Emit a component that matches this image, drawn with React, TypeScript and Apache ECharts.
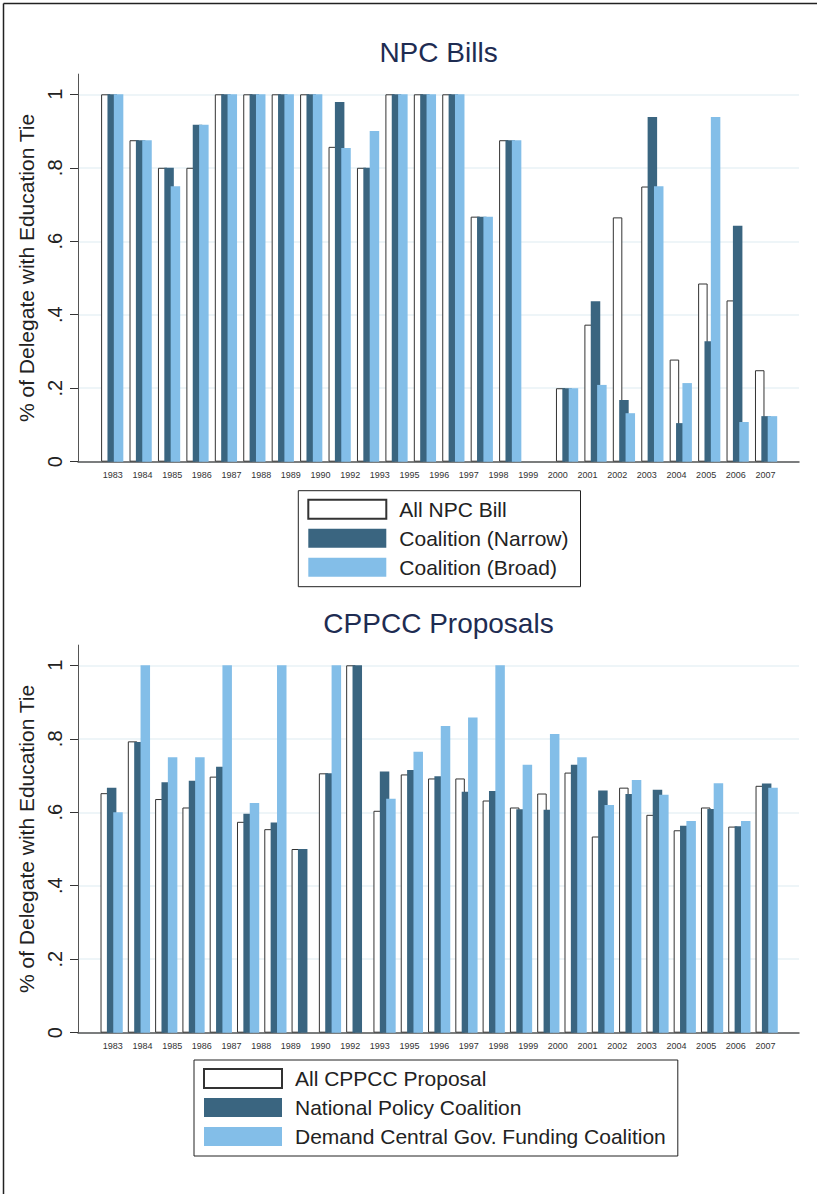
import React, { useEffect, useRef } from "react";
import * as echarts from "echarts";

const FONT = '"Liberation Sans", Arial, Helvetica, sans-serif';

// Tick labels shown under each chart (23 labels)
const tickLabels = ["1983", "1984", "1985", "1986", "1987", "1988", "1989", "1990", "1992", "1993", "1995", "1996", "1997", "1998", "1999", "2000", "2001", "2002", "2003", "2004", "2005", "2006", "2007"];

// Bar slots of the NPC chart (24 groups drawn)
const npcSlots = ["1", "2", "3", "4", "5", "6", "7", "8", "9", "10", "11", "12", "13", "14", "15", "16", "17", "18", "19", "20", "21", "22", "23", "24"];
const npcAll = [1, 0.875, 0.8, 0.8, 1, 1, 1, 1, 0.857, 0.8, 1, 1, 1, 0.667, 0.875, null, 0.2, 0.373, 0.665, 0.749, 0.278, 0.485, 0.439, 0.249];
const npcNarrow = [1, 0.875, 0.8, 0.917, 1, 1, 1, 1, 0.979, 0.8, 1, 1, 1, 0.667, 0.875, null, 0.2, 0.437, 0.168, 0.938, 0.105, 0.328, 0.642, 0.124];
const npcBroad = [1, 0.875, 0.75, 0.917, 1, 1, 1, 1, 0.854, 0.9, 1, 1, 1, 0.667, 0.875, null, 0.2, 0.209, 0.132, 0.75, 0.214, 0.938, 0.108, 0.124];

// Bar slots of the CPPCC chart (25 groups drawn)
const cppccSlots = ["1", "2", "3", "4", "5", "6", "7", "8", "9", "10", "11", "12", "13", "14", "15", "16", "17", "18", "19", "20", "21", "22", "23", "24", "25"];
const cppccAll = [0.652, 0.793, 0.636, 0.613, 0.697, 0.574, 0.554, 0.5, 0.706, 1, 0.604, 0.703, 0.692, 0.692, 0.632, 0.613, 0.651, 0.708, 0.534, 0.667, 0.593, 0.551, 0.613, 0.561, 0.672];
const cppccNational = [0.667, 0.791, 0.682, 0.686, 0.724, 0.596, 0.572, 0.5, 0.706, 1, 0.711, 0.715, 0.698, 0.656, 0.658, 0.608, 0.607, 0.729, 0.659, 0.65, 0.661, 0.563, 0.609, 0.562, 0.678];
const cppccFunding = [0.6, 1, 0.75, 0.75, 1, 0.625, 1, null, 1, null, 0.637, 0.765, 0.835, 0.858, 1, 0.729, 0.813, 0.75, 0.62, 0.688, 0.648, 0.576, 0.679, 0.576, 0.667];

const yTicks = [0, 0.2, 0.4, 0.6, 0.8, 1];
const yTickText = ["0", ".2", ".4", ".6", ".8", "1"];

const DARK = "#3a6580";
const LIGHT = "#83bee8";
const YMAX = 1.055;

function frameAxes(gridIndex: number) {
  const x = {
    type: "value",
    gridIndex,
    min: 0,
    max: 1,
    axisLine: { show: true, lineStyle: { color: "#555", width: 1.5 } },
    axisTick: { show: false },
    axisLabel: { show: false },
    splitLine: { show: false },
  };
  const y = {
    type: "value",
    gridIndex,
    min: 0,
    max: YMAX,
    interval: 0.2,
    name: "% of Delegate with Education Tie",
    nameLocation: "middle",
    nameRotate: 90,
    nameGap: 33,
    nameTextStyle: { fontFamily: FONT, fontSize: 21, color: "#222" },
    axisLine: { show: true, lineStyle: { color: "#555", width: 1 } },
    axisTick: { show: true, length: 8, lineStyle: { color: "#333", width: 1 }, customValues: yTicks },
    axisLabel: {
      rotate: 90,
      margin: 13,
      fontFamily: FONT,
      fontSize: 20,
      color: "#222",
      customValues: yTicks,
      formatter: (v: number) => {
        const i = yTicks.findIndex((t) => Math.abs(t - v) < 1e-6);
        return i >= 0 ? yTickText[i] : "";
      },
    },
    splitLine: { show: true, lineStyle: { color: "#e9f2f6", width: 1.5 } },
  };
  return { x, y };
}

function barAxes(gridIndex: number, slots: string[]) {
  const labels = {
    type: "category",
    gridIndex,
    data: tickLabels,
    axisLine: { show: false },
    axisTick: { show: false },
    axisLabel: { interval: 0, fontFamily: FONT, fontSize: 9, color: "#333", margin: 9 },
    splitLine: { show: false },
  };
  const bars = {
    type: "category",
    gridIndex,
    data: slots,
    show: false,
  };
  const y = { type: "value", gridIndex, min: 0, max: YMAX, show: false };
  return { labels, bars, y };
}

function barSeries(name: string, data: (number | null)[], xAxisIndex: number, yAxisIndex: number, kind: number) {
  const itemStyle =
    kind === 0
      ? { color: "#ffffff", borderColor: "#333", borderWidth: 1 }
      : { color: kind === 1 ? DARK : LIGHT };
  return {
    type: "bar",
    name,
    data,
    xAxisIndex,
    yAxisIndex,
    barWidth: 9.5,
    barGap: "-33%",
    itemStyle,
    emphasis: { disabled: true },
  };
}

export default function App() {
  const ref = useRef<HTMLDivElement>(null);
  useEffect(() => {
    if (!ref.current) return;
    const chart = echarts.init(ref.current, undefined, { renderer: "svg" });
    const f1 = frameAxes(0);
    const b1 = barAxes(1, npcSlots);
    const f2 = frameAxes(2);
    const b2 = barAxes(3, cppccSlots);

    const legendCommon = {
      orient: "vertical",
      icon: "rect",
      itemWidth: 78,
      itemHeight: 19,
      itemGap: 8,
      borderColor: "#222",
      borderWidth: 1,
      padding: [8, 12, 9, 9],
      selectedMode: false,
      textStyle: { fontFamily: FONT, fontSize: 21, color: "#222", padding: [0, 0, 0, 8] },
    };

    chart.setOption({
      animation: false,
      backgroundColor: "#ffffff",
      grid: [
        { left: 78, right: 18, top: 74.1, bottom: 1194 - 461.7 },
        { left: 98, right: 36.7, top: 74.1, bottom: 1194 - 461.7 },
        { left: 78, right: 18, top: 645.1, bottom: 1194 - 1032.7 },
        { left: 98, right: 36.7, top: 645.1, bottom: 1194 - 1032.7 },
      ],
      xAxis: [f1.x, b1.labels, b1.bars, f2.x, b2.labels, b2.bars],
      yAxis: [f1.y, b1.y, f2.y, b2.y],
      legend: [
        { ...legendCommon, left: 298.3, top: 490.7, data: ["All NPC Bill", "Coalition (Narrow)", "Coalition (Broad)"] },
        { ...legendCommon, left: 194, top: 1060, data: ["All CPPCC Proposal", "National Policy Coalition", "Demand Central Gov. Funding Coalition"] },
      ],
      series: [
        barSeries("All NPC Bill", npcAll, 2, 1, 0),
        barSeries("Coalition (Narrow)", npcNarrow, 2, 1, 1),
        barSeries("Coalition (Broad)", npcBroad, 2, 1, 2),
        barSeries("All CPPCC Proposal", cppccAll, 5, 3, 0),
        barSeries("National Policy Coalition", cppccNational, 5, 3, 1),
        barSeries("Demand Central Gov. Funding Coalition", cppccFunding, 5, 3, 2),
      ],
      graphic: [
        { type: "line", shape: { x1: 3.5, y1: 3.5, x2: 3.5, y2: 1194 }, style: { stroke: "#222", lineWidth: 1.5 }, silent: true },
        { type: "line", shape: { x1: 3.5, y1: 3.5, x2: 817, y2: 3.5 }, style: { stroke: "#222", lineWidth: 1.5 }, silent: true },
        {
          type: "text",
          x: 438.5,
          y: 52.5,
          silent: true,
          style: { text: "NPC Bills", fontFamily: FONT, fontSize: 28, fill: "#1e2c52", align: "center", verticalAlign: "middle" },
        },
        {
          type: "text",
          x: 438.5,
          y: 623.3,
          silent: true,
          style: { text: "CPPCC Proposals", fontFamily: FONT, fontSize: 28, fill: "#1e2c52", align: "center", verticalAlign: "middle" },
        },
      ],
    });
    return () => chart.dispose();
  }, []);
  return <div ref={ref} style={{ position: "absolute", left: 0, top: 0, width: 817, height: 1194 }} />;
}
